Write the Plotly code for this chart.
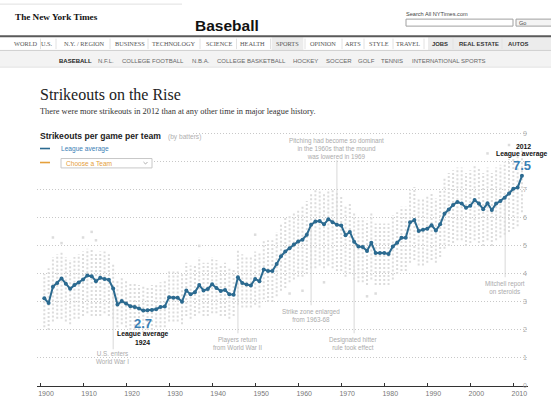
import plotly.graph_objects as go

# ---------------- data ----------------
years = list(range(1901, 2013))
league_avg = [
    3.13, 2.96, 3.54, 3.68, 3.84, 3.65, 3.47, 3.60, 3.69, 3.80,   # 1901-1910
    3.94, 3.92, 3.74, 3.86, 3.82, 3.79, 3.48, 2.91, 3.03, 2.94,   # 1911-1920
    2.85, 2.82, 2.77, 2.69, 2.70, 2.71, 2.74, 2.82, 2.84, 3.17,   # 1921-1930
    3.15, 3.15, 3.01, 3.41, 3.27, 3.35, 3.60, 3.41, 3.46, 3.63,   # 1931-1940
    3.50, 3.39, 3.43, 3.27, 3.26, 3.88, 3.68, 3.62, 3.59, 3.82,   # 1941-1950
    3.74, 4.16, 4.10, 4.10, 4.35, 4.63, 4.80, 4.92, 5.05, 5.16,   # 1951-1960
    5.22, 5.40, 5.75, 5.87, 5.89, 5.77, 5.95, 5.84, 5.75, 5.73,   # 1961-1970
    5.38, 5.50, 5.15, 4.98, 4.96, 4.82, 5.11, 4.75, 4.75, 4.75,   # 1971-1980
    4.71, 4.98, 5.11, 5.29, 5.29, 5.84, 5.92, 5.53, 5.58, 5.61,   # 1981-1990
    5.74, 5.55, 5.77, 6.15, 6.30, 6.46, 6.57, 6.51, 6.36, 6.43,   # 1991-2000
    6.64, 6.51, 6.31, 6.52, 6.28, 6.51, 6.60, 6.72, 6.87, 7.04,   # 2001-2010
    7.08, 7.50,                                                   # 2011-2012
]
# spread of individual team values (lowest / highest team each season)
team_low = [
    2.1, 2.0, 2.3, 2.4, 2.4, 2.3, 2.2, 2.4, 2.4, 2.5,
    2.6, 2.5, 2.5, 2.5, 2.6, 2.5, 2.4, 2.1, 2.2, 2.1,
    2.0, 2.0, 2.0, 1.9, 2.0, 2.0, 2.1, 2.1, 2.1, 2.3,
    2.3, 2.3, 2.2, 2.5, 2.4, 2.5, 2.6, 2.5, 2.5, 2.6,
    2.6, 2.5, 2.5, 2.4, 2.5, 2.9, 2.8, 2.8, 2.8, 2.9,
    2.8, 3.1, 3.0, 3.0, 3.2, 3.4, 3.5, 3.7, 3.8, 3.9,
    3.9, 4.0, 4.2, 4.2, 4.3, 4.2, 4.3, 4.2, 4.1, 4.1,
    3.9, 4.0, 3.8, 3.7, 3.7, 3.6, 3.8, 3.6, 3.6, 3.6,
    3.6, 3.8, 4.0, 4.1, 4.1, 4.4, 4.5, 4.3, 4.3, 4.4,
    4.5, 4.4, 4.6, 4.9, 5.0, 5.1, 5.2, 5.2, 5.0, 5.1,
    5.2, 5.1, 5.0, 5.2, 5.0, 5.2, 5.3, 5.4, 5.5, 5.6,
    5.7, 6.2,
]
team_high = [
    4.0, 4.2, 4.6, 4.7, 4.8, 4.6, 4.5, 4.6, 4.7, 4.8,
    4.9, 4.9, 4.7, 4.8, 4.8, 4.7, 4.4, 3.8, 3.9, 3.8,
    3.7, 3.7, 3.6, 3.6, 3.5, 3.6, 3.6, 3.7, 3.8, 4.1,
    4.1, 4.1, 4.0, 4.4, 4.3, 4.3, 4.6, 4.4, 4.4, 4.6,
    4.5, 4.3, 4.4, 4.2, 4.2, 4.9, 4.7, 4.6, 4.6, 4.8,
    4.8, 5.2, 5.2, 5.2, 5.5, 5.8, 6.0, 6.1, 6.2, 6.3,
    6.4, 6.6, 6.9, 7.0, 7.0, 6.9, 7.0, 7.0, 6.9, 6.8,
    6.4, 6.5, 6.2, 6.0, 6.0, 5.9, 6.2, 5.8, 5.8, 5.8,
    5.8, 6.1, 6.2, 6.4, 6.4, 7.0, 7.1, 6.7, 6.7, 6.8,
    6.9, 6.7, 7.0, 7.4, 7.6, 7.7, 7.8, 7.8, 7.6, 7.7,
    7.9, 7.8, 7.6, 7.8, 7.6, 7.8, 7.9, 8.0, 8.1, 8.3,
    8.3, 8.4,
]
outlier_years = [1903, 1905, 1910, 1912, 1913, 1937, 1950, 1958, 1961, 1966, 1976, 1978, 2004, 2009]
outlier_vals = [5.3, 5.1, 5.3, 5.5, 5.2, 5.0, 5.4, 3.3, 3.4, 3.7, 3.2, 3.3, 8.3, 8.6]

decade_ticks = list(range(1900, 2011, 10))
y_ticks = list(range(0, 10))
# the "8" label sits under the 2012 call-out in the original, so it is not shown
y_ticktext = ["0", "1", "2", "3", "4", "5", "6", "7", "", "9"]

# ---------------- geometry helpers (pixel -> paper) ----------------
W, H = 551, 410
PL, PR = 37.0, 528.0        # plot area left / right in px
PT, PB = 130.8, 385.6       # plot area top / bottom in px


def px(x):
    return (x - PL) / (PR - PL)


def py(y):
    return (PB - y) / (PB - PT)


BLUE = "#2b6a90"
BLUE_TXT = "#3a80b5"
ORANGE = "#e5a03c"
SANS = "Liberation Sans, Arial, sans-serif"
SERIF = "Liberation Serif, Times New Roman, serif"

fig = go.Figure()

# team spread: dotted columns
cx, cy = [], []
for yr, lo, hi in zip(years, team_low, team_high):
    cx += [yr, yr, None]
    cy += [lo, hi, None]
fig.add_trace(go.Scatter(x=cx, y=cy, mode="lines",
                         line=dict(color="#dcdcdc", width=2, dash="2px,2px"),
                         hoverinfo="skip", showlegend=False))
fig.add_trace(go.Scatter(x=outlier_years, y=outlier_vals, mode="markers",
                         marker=dict(color="#dcdcdc", size=2.5, symbol="square"),
                         hoverinfo="skip", showlegend=False))

# event lines (drawn as shapes in data coords)
events = [
    dict(year=1917, top=3.40, bottom=1.31, text="U.S. enters<br>World War I", tx=112.7, ty=357),
    dict(year=1946, top=3.85, bottom=1.88, text="Players return<br>from World War II", tx=237.3, ty=343),
    dict(year=1963, top=5.70, bottom=2.88, text="Strike zone enlarged<br>from 1963-68", tx=311.0, ty=315),
    dict(year=1973, top=5.10, bottom=1.88, text="Designated hitter<br>rule took effect", tx=353.3, ty=343),
    dict(year=2008.1, top=6.65, bottom=3.88, text="Mitchell report<br>on steroids", tx=505.0, ty=287),
    dict(year=1969, top=8.06, bottom=5.80,
         text="Pitching had become so dominant<br>in the 1960s that the mound<br>was lowered in 1969",
         tx=336.7, ty=148.3),
]
shapes = []
for ev in events:
    shapes.append(dict(type="line", xref="x", yref="y", x0=ev["year"], x1=ev["year"],
                       y0=ev["bottom"], y1=ev["top"], line=dict(color="#d8d8d8", width=1),
                       layer="below"))

# league average line
fig.add_trace(go.Scatter(x=years, y=league_avg, mode="lines+markers",
                         line=dict(color=BLUE, width=2),
                         marker=dict(color=BLUE, size=4),
                         hoverinfo="skip", showlegend=False))

annotations = []


def ann(text, x, y, size, color="#333", family=SANS, xanchor="center", yanchor="middle",
        bg=None):
    d = dict(text=text, x=px(x), y=py(y), xref="paper", yref="paper", showarrow=False,
             xanchor=xanchor, yanchor=yanchor, font=dict(size=size, color=color, family=family),
             borderpad=0)
    if bg:
        d["bgcolor"] = bg
    annotations.append(d)


def rect(x0, y0, x1, y1, fill=None, line_color=None, lw=1, layer="above"):
    shapes.append(dict(type="rect", xref="paper", yref="paper",
                       x0=px(x0), x1=px(x1), y0=py(y1), y1=py(y0),
                       fillcolor=fill if fill else "rgba(0,0,0,0)",
                       line=dict(color=line_color if line_color else "rgba(0,0,0,0)", width=lw if line_color else 0),
                       layer=layer))


def hline(x0, x1, y, color, w=1, layer="above"):
    shapes.append(dict(type="line", xref="paper", yref="paper", x0=px(x0), x1=px(x1),
                       y0=py(y), y1=py(y), line=dict(color=color, width=w), layer=layer))


def vline(x, y0, y1, color, w=1, layer="above"):
    shapes.append(dict(type="line", xref="paper", yref="paper", x0=px(x), x1=px(x),
                       y0=py(y0), y1=py(y1), line=dict(color=color, width=w), layer=layer))


# ---------- page header ----------
hline(0, 182, 4, "#e0e0e0")
ann("<b>The New York Times</b>", 56, 16.7, 9.2, "#111", SERIF)
ann("<b>Baseball</b>", 226.7, 25, 15.5, "#111", SANS)
ann("Search All NYTimes.com", 405, 14, 5.6, "#444", SANS, xanchor="left")
rect(406, 19, 513, 26, fill="#ffffff", line_color="#a0a0a0")
rect(516, 19, 560, 26, fill="#f4f4f4", line_color="#a0a0a0")
ann("Go", 518, 22.5, 5.6, "#444", SANS, xanchor="left")

# nav bar
rect(271.7, 37, 303.3, 50, fill="#ececec")
rect(428, 37, 560, 50, fill="#ececec")
hline(0, 551, 36.2, "#5a5a5a", 2)
hline(0, 551, 50.3, "#cfcfcf", 1)
rect(0, 50.8, 551, 67, fill="#f3f3f3")
hline(0, 551, 67, "#e4e4e4", 1)
nav_serif = [("WORLD", 26), ("U.S.", 46.7), ("N.Y. / REGION", 84.7), ("BUSINESS", 129.5),
             ("TECHNOLOGY", 173.8), ("SCIENCE", 218.8), ("HEALTH", 252.8), ("SPORTS", 287.7),
             ("OPINION", 322.7), ("ARTS", 353), ("STYLE", 378.8), ("TRAVEL", 407.5)]
for t, x in nav_serif:
    ann(t, x, 43.6, 6.3, "#555", SERIF)
for t, x in [("<b>JOBS</b>", 440), ("<b>REAL ESTATE</b>", 479.3)]:
    ann(t, x, 43.6, 5.9, "#333", SANS)
ann("<b>AUTOS</b>", 506.7, 43.6, 5.9, "#333", SANS, xanchor="left")
for x in [40.5, 56, 110, 148, 200, 236.5, 270.5, 305, 342, 364, 393, 424, 453, 502]:
    vline(x, 38.5, 49, "#e2e2e2")

subnav = [("<b>BASEBALL</b>", 75.3, "#222"), ("N.F.L.", 106.3, "#666"), ("COLLEGE FOOTBALL", 153, "#666"),
          ("N.B.A.", 200.7, "#666"), ("COLLEGE BASKETBALL", 251.2, "#666"), ("HOCKEY", 305.5, "#666"),
          ("SOCCER", 338.8, "#666"), ("GOLF", 366, "#666"), ("TENNIS", 392, "#666"),
          ("INTERNATIONAL SPORTS", 448.7, "#666")]
for t, x, c in subnav:
    ann(t, x, 60.7, 6.0, c, SANS)

# ---------- chart header ----------
ann("Strikeouts on the Rise", 39.3, 94, 16, "#222", SERIF, xanchor="left")
ann("There were more strikeouts in 2012 than at any other time in major league history.",
    39.3, 111.7, 8.4, "#333", SERIF, xanchor="left")

rect(36, 129, 192, 142, fill="#ffffff")
rect(36, 155, 153, 169, fill="#ffffff")
ann("<b>Strikeouts per game per team</b>", 39.3, 136, 8.6, "#222", SANS, xanchor="left")
ann("(by batters)", 167, 136.3, 6.6, "#b0b0b0", SANS, xanchor="left")
hline(40, 50, 148.3, BLUE, 1.6)
ann("League average", 60, 148.3, 6.6, BLUE_TXT, SANS, xanchor="left")
hline(40, 50, 162.3, ORANGE, 1.6)
rect(61, 158.3, 152, 167.7, fill="#ffffff", line_color="#c8c8c8")
ann("Choose a Team", 65, 163, 6.6, ORANGE, SANS, xanchor="left")
shapes.append(dict(type="path", xref="paper", yref="paper",
                   path="M {:.5f},{:.5f} L {:.5f},{:.5f} L {:.5f},{:.5f}".format(
                       px(143.5), py(161.8), px(145.5), py(163.8), px(147.5), py(161.8)),
                   line=dict(color="#999", width=0.8), layer="above"))

# ---------- event annotations ----------
for ev in events:
    ann(ev["text"], ev["tx"], ev["ty"], 6.3, "#ababab", SANS)

# ---------- highlight labels ----------
ann("<b>2.7</b>", 142.7, 322.7, 13, BLUE_TXT, SANS)
ann("<b>League average</b>", 142.7, 334, 6.8, "#111", SANS)
ann("<b>1924</b>", 142.7, 341.7, 6.8, "#111", SANS)
ann("<b>2012</b>", 523.3, 146, 6.8, "#111", SANS)
ann("<b>League average</b>", 521.7, 153.3, 6.8, "#111", SANS)
ann("<b>7.5</b>", 521.7, 165, 13, BLUE_TXT, SANS)

fig.update_layout(
    width=W, height=H,
    margin=dict(l=PL, r=W - PR, t=PT, b=H - PB, pad=0),
    paper_bgcolor="white", plot_bgcolor="white",
    showlegend=False,
    shapes=shapes,
    annotations=annotations,
    xaxis=dict(range=[1899.30, 2013.41], tickvals=decade_ticks,
               ticktext=[str(t) for t in decade_ticks],
               showgrid=False, zeroline=False,
               showline=True, linecolor="#333", linewidth=1,
               ticks="inside", ticklen=3, tickcolor="#333", tickwidth=1,
               ticklabelshift=6, ticklabelstandoff=1,
               tickfont=dict(size=7, color="#777", family=SANS), fixedrange=True),
    yaxis=dict(range=[0, 9.1], tickvals=y_ticks, ticktext=y_ticktext,
               side="right", showgrid=True, gridcolor="#c8c8c8", gridwidth=1, griddash="1px,2px",
               zeroline=False, showline=False, ticks="", ticklabelstandoff=-6,
               tickfont=dict(size=7, color="#aaaaaa", family=SANS), fixedrange=True),
)

fig.write_html("out.html", config={"displayModeBar": False},
               post_script="document.body.style.margin='0';document.body.style.padding='0';"
                           "document.body.style.overflow='hidden';")
